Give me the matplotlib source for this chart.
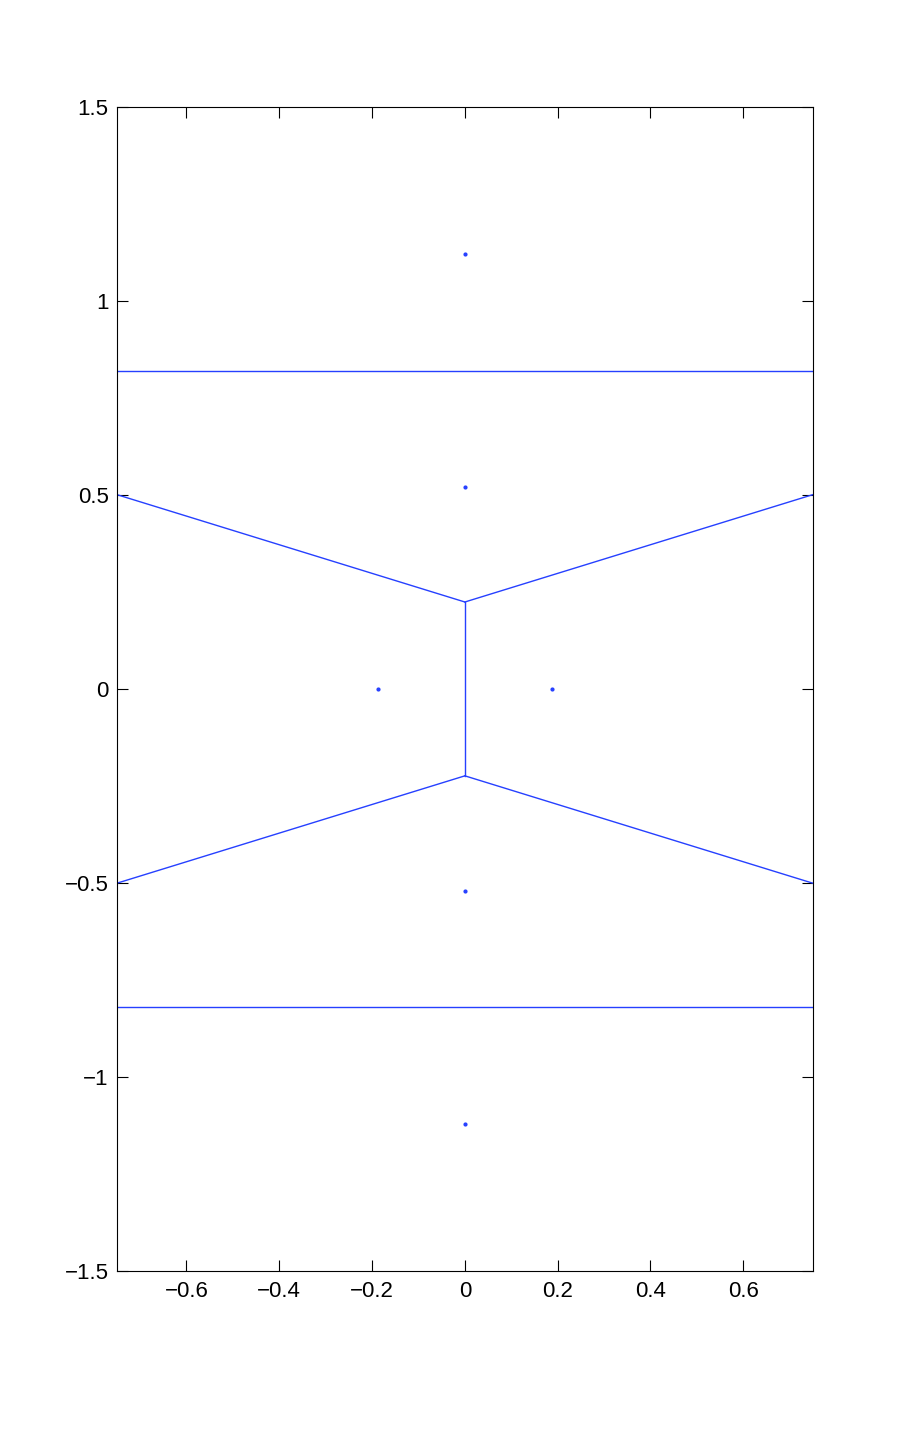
import matplotlib
matplotlib.use('Agg')
from matplotlib import pyplot as plt
import numpy as np

# generator points
px = [0.0, 0.0, -0.187, 0.187, 0.0, 0.0]
py = [1.12, 0.52, 0.0, 0.0, -0.52, -1.12]

# voronoi edges (x0, x1), (y0, y1), unbounded ones run past the axes
edge_x = [(-2.0, 2.0), (-2.0, 2.0), (0.0, 0.0),
          (0.0, -2.0), (0.0, 2.0), (0.0, -2.0), (0.0, 2.0)]
edge_y = [(0.82, 0.82), (-0.82, -0.82), (0.224, -0.224),
          (0.224, 0.962), (0.224, 0.962), (-0.224, -0.962), (-0.224, -0.962)]

xticks = [-0.6, -0.4, -0.2, 0, 0.2, 0.4, 0.6]
yticks = [-1.5, -1, -0.5, 0, 0.5, 1, 1.5]

blue = (0.15, 0.25, 1.0)

plt.rcParams['font.family'] = ['Liberation Sans', 'DejaVu Sans']
plt.rcParams['axes.unicode_minus'] = True

fig = plt.figure(figsize=(8.99, 14.29), dpi=100)
ax = fig.add_axes([0.13, 0.1106, 0.7742, 0.8146])

for ex, ey in zip(edge_x, edge_y):
    ax.plot(ex, ey, '-', color=blue, lw=1.0)
ax.plot(px, py, '.', color=blue, ms=4)

ax.set_xlim(-0.75, 0.75)
ax.set_ylim(-1.5, 1.5)
ax.set_xticks(xticks)
ax.set_yticks(yticks)
ax.set_xticklabels(['\u22120.6', '\u22120.4', '\u22120.2', '0', '0.2', '0.4', '0.6'])
ax.set_yticklabels(['\u22121.5', '\u22121', '\u22120.5', '0', '0.5', '1', '1.5'])
ax.tick_params(direction='in', length=8, width=0.8, top=True, right=True,
               labelsize=16, pad=7)
ax.tick_params(axis='y', pad=6)
for s in ax.spines.values():
    s.set_linewidth(0.8)

fig.savefig('out.png', dpi=100)
